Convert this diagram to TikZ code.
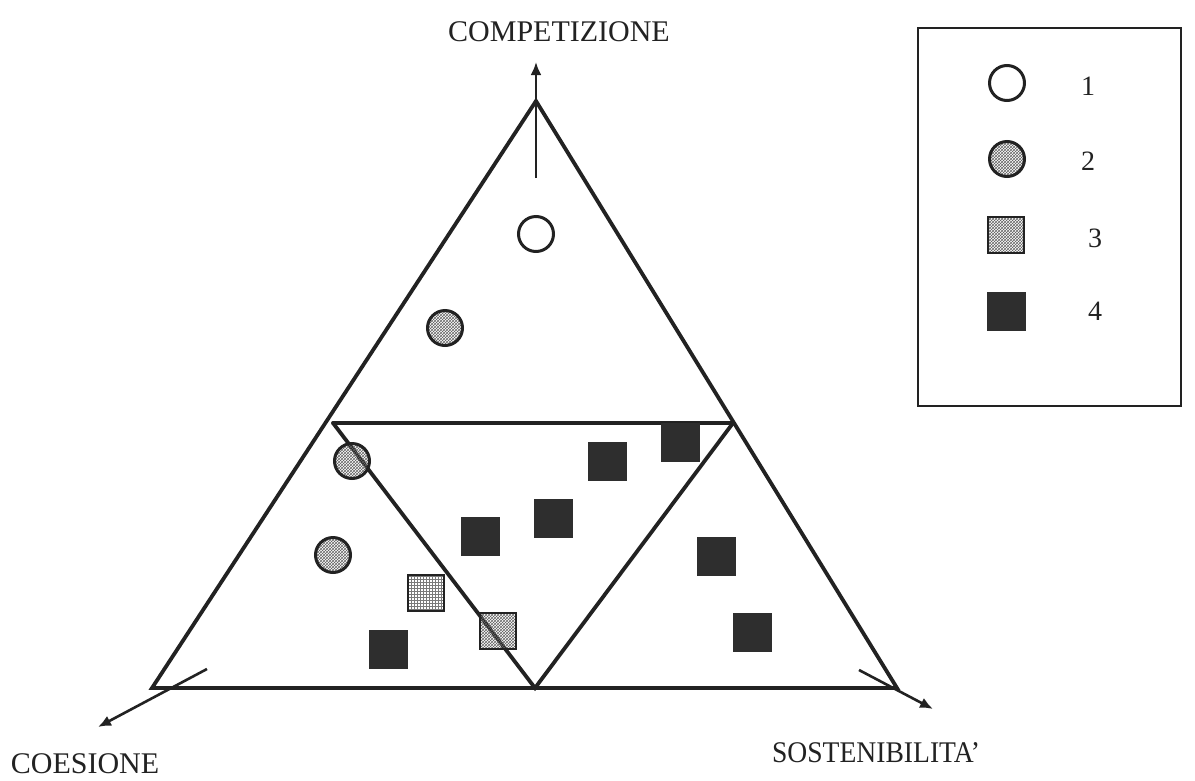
\documentclass[tikz,border=0pt]{standalone}
\usepackage{fontspec}
\setmainfont{Liberation Serif}
\usetikzlibrary{arrows.meta,patterns}
\definecolor{ink}{HTML}{222222}
\definecolor{dark}{HTML}{2E2E2E}
\begin{document}
\begin{tikzpicture}[x=1pt,y=-1pt,
  tri/.style={draw=ink,line width=3.8pt,line cap=round,line join=miter},
  axis/.style={draw=ink,line width=2.6pt,-{Latex[length=13pt,width=11pt]}},
  opencirc/.style={circle,draw=ink,line width=3pt,fill=white,minimum size=35pt,inner sep=0pt},
  hatchcirc/.style={circle,draw=ink,line width=3pt,minimum size=35pt,inner sep=0pt,
     pattern=crosshatch,pattern color=ink!70},
  hatchsq/.style={rectangle,draw=ink,line width=2.6pt,minimum size=36pt,inner sep=0pt,
     pattern=crosshatch,pattern color=ink!70},
  gridsq/.style={rectangle,draw=ink,line width=2.6pt,minimum size=36pt,inner sep=0pt,
     pattern=grid,pattern color=ink!60},
  blacksq/.style={rectangle,fill=dark,minimum size=39pt,inner sep=0pt},
  lab/.style={font=\fontsize{30}{34}\selectfont,text=ink,anchor=base,inner sep=0pt},
  num/.style={font=\fontsize{28}{32}\selectfont,text=ink,anchor=base,inner sep=0pt}]
\useasboundingbox (0,0) rectangle (1195,780);
% vertices
\coordinate (A) at (536,101);
\coordinate (L) at (152,688);
\coordinate (R) at (897,688);
\coordinate (P) at (333,423);
\coordinate (Q) at (733,423);
\coordinate (M) at (535,688);
% axis ends
\coordinate (tA) at (536,178);
\coordinate (hA) at (536,62);
\coordinate (tL) at (207,669);
\coordinate (hL) at (98,727);
\coordinate (tR) at (859,670);
\coordinate (hR) at (933,709);
% outer triangle
\draw[tri] (L) -- (A) -- (R) -- cycle;
% inner triangle
\draw[tri] (P) -- (Q);
\draw[tri] (P) -- (M) -- (Q);
% axes
\draw[axis] (tA) -- (hA);
\draw[axis] (tL) -- (hL);
\draw[axis] (tR) -- (hR);
% labels
\node[lab] (comp) at (559,41) {COMPETIZIONE};
\node[lab] (coes) at (85,773) {COESIONE};
\node[lab,xscale=0.92] (sost) at (876,762) {SOSTENIBILITA'};
% markers in the triangle
\node[opencirc] (c1) at (536,234) {};
\node[hatchcirc] (c2) at (445,328) {};
\node[hatchcirc] (c3) at (352,461) {};
\node[hatchcirc] (c4) at (333,555) {};
\node[gridsq] (s1) at (426,593) {};
\node[hatchsq] (s2) at (498,631) {};
\node[blacksq] (b1) at (388,649) {};
\node[blacksq] (b2) at (480,536) {};
\node[blacksq] (b3) at (553,518) {};
\node[blacksq] (b4) at (607,461) {};
\node[blacksq] (b5) at (680,442) {};
\node[blacksq] (b6) at (716,556) {};
\node[blacksq] (b7) at (752,632) {};
% legend
\node[draw=ink,line width=1.8pt,minimum width=263pt,minimum height=378pt,inner sep=0pt,anchor=north west] (leg) at (917,27) {};
\node[opencirc] (l1) at (1007,83) {};
\node[hatchcirc] (l2) at (1007,159) {};
\node[hatchsq] (l3) at (1006,235) {};
\node[blacksq] (l4) at (1006,311) {};
\node[num] (n1) at (1088,95) {1};
\node[num] (n2) at (1088,170) {2};
\node[num] (n3) at (1095,247) {3};
\node[num] (n4) at (1095,320) {4};
\end{tikzpicture}
\end{document}
